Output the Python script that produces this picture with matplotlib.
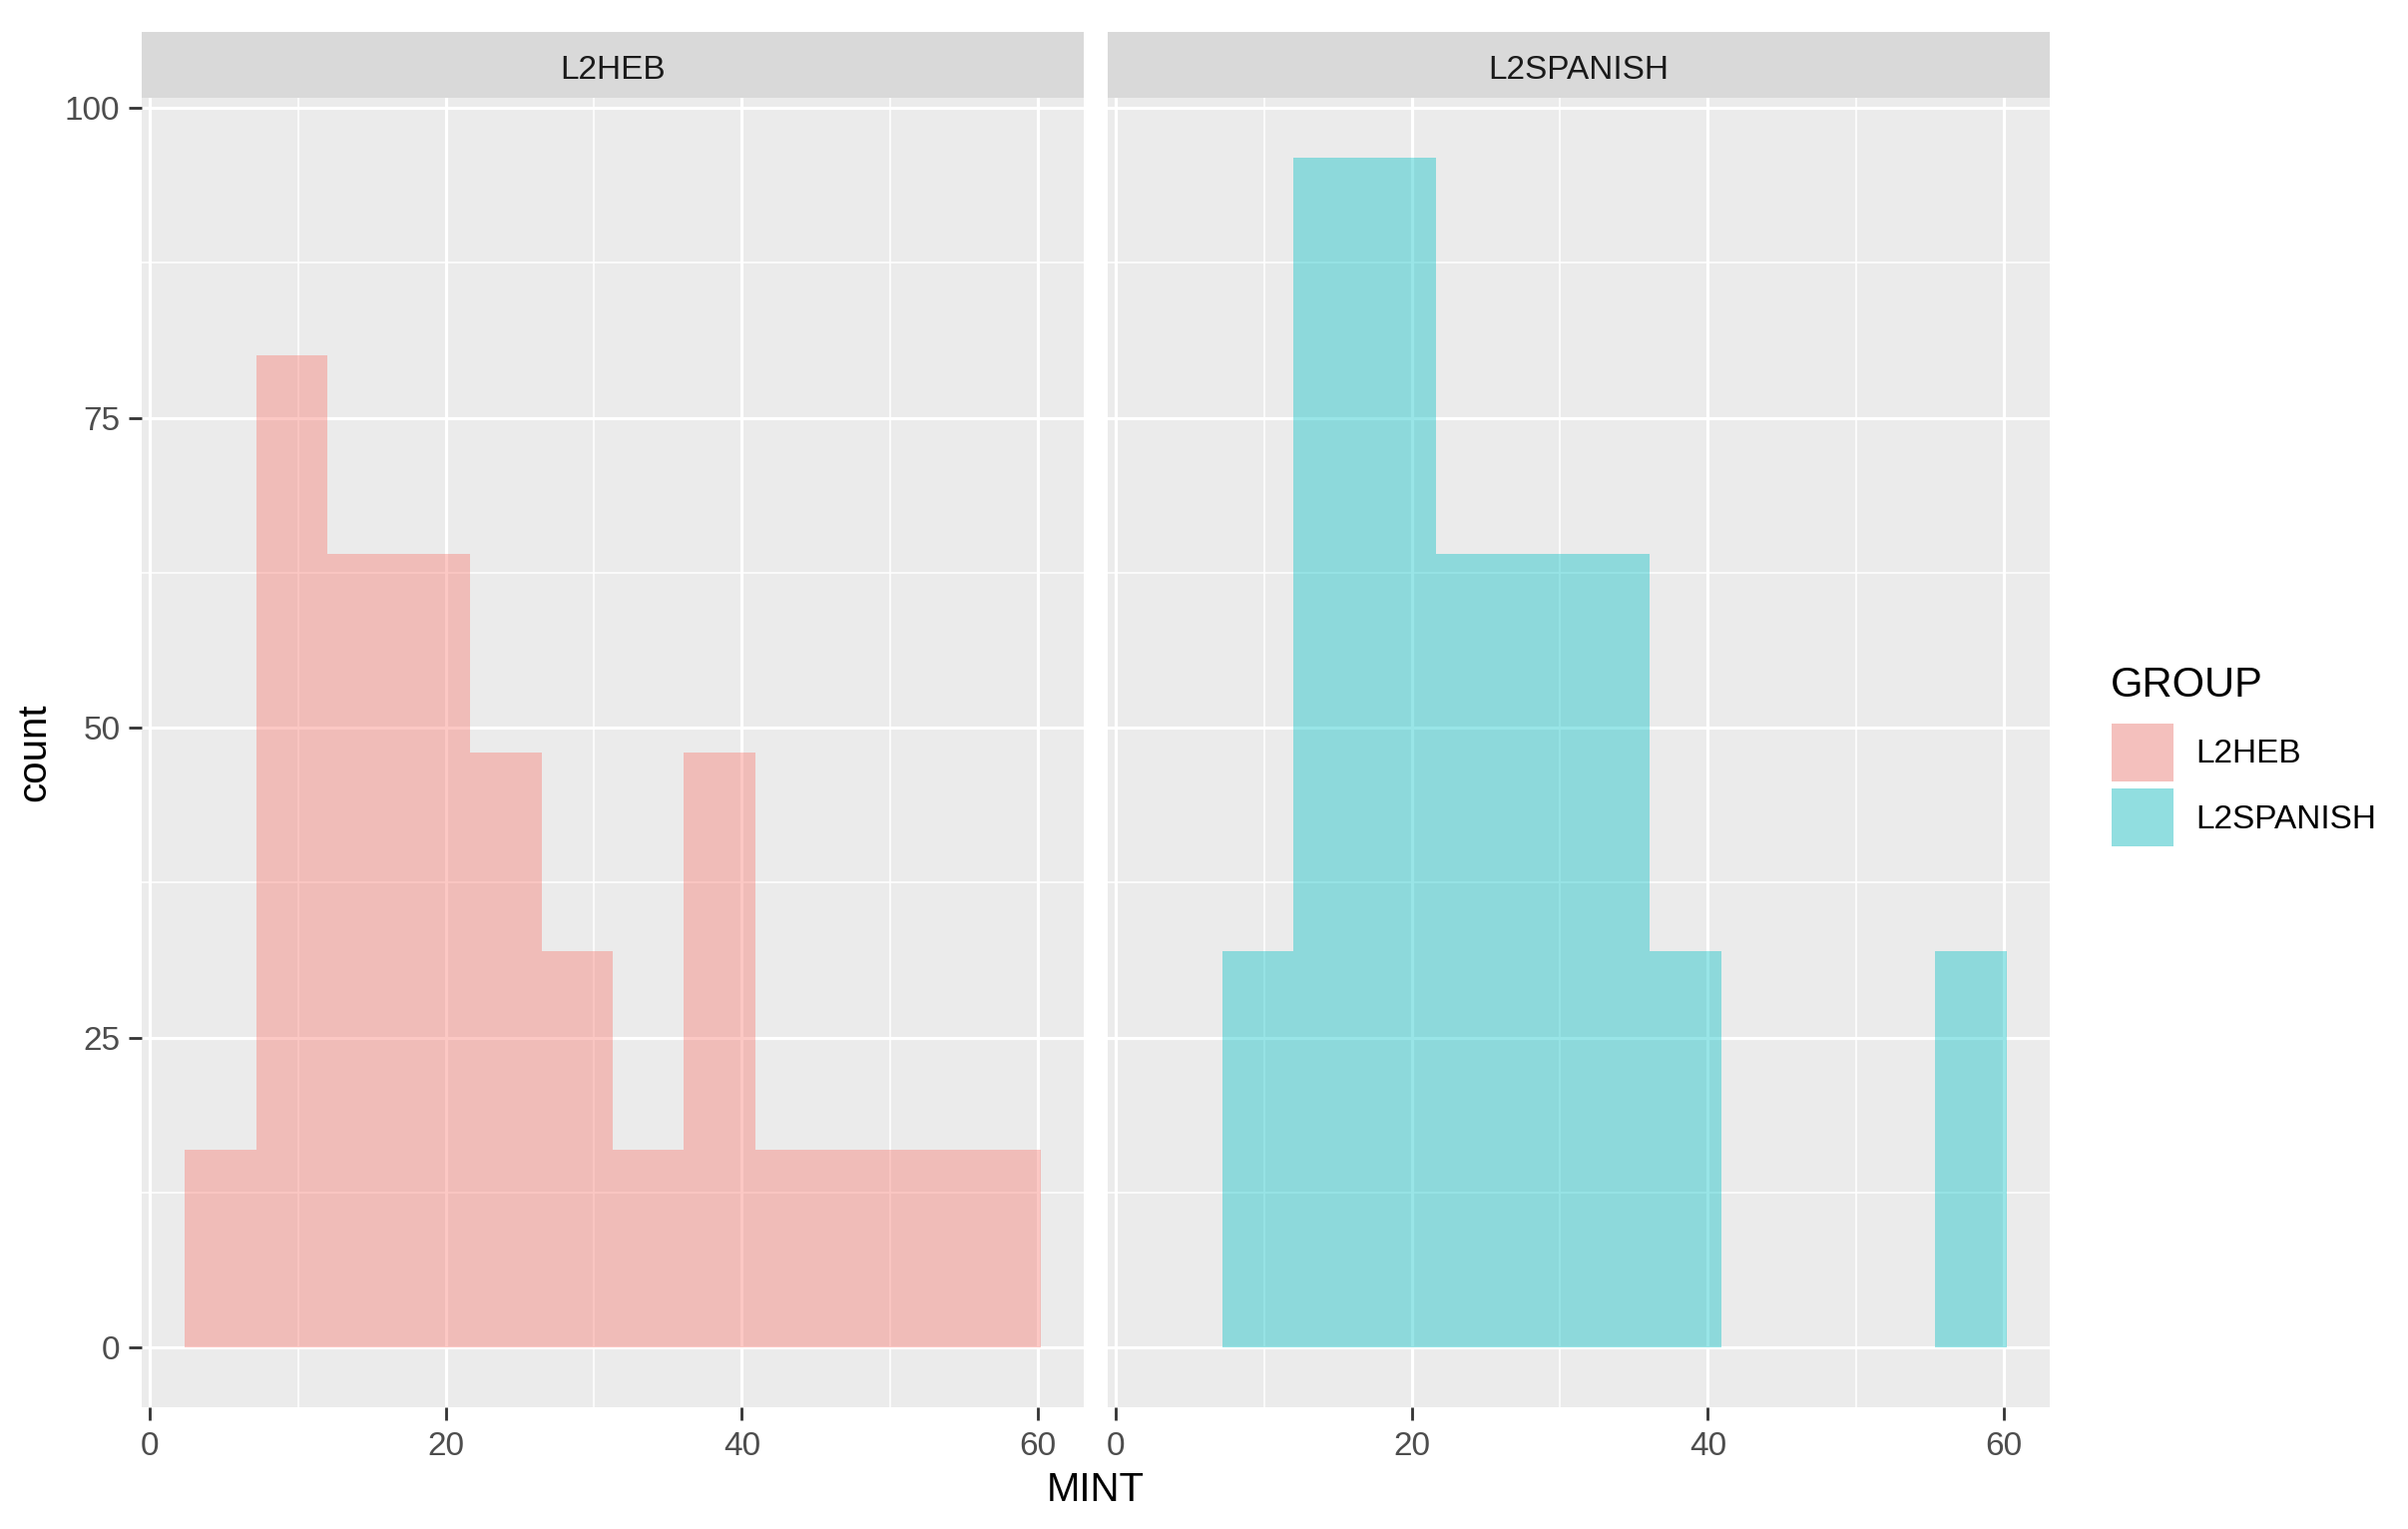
import matplotlib
matplotlib.use("Agg")
import matplotlib.pyplot as plt
import numpy as np
from matplotlib.colors import to_rgb
from matplotlib.patches import Rectangle

plt.rcParams["font.family"] = ["Liberation Sans", "DejaVu Sans"]

# histogram bins (shared by both facets) and counts per facet
bin_edges = [2.35, 7.17, 11.99, 16.81, 21.63, 26.45, 31.27, 36.09, 40.91, 45.73, 50.55, 55.37, 60.19]
groups = ["L2HEB", "L2SPANISH"]
heb_counts = [16, 80, 64, 64, 48, 32, 16, 48, 16, 16, 16, 16]
spa_counts = [0, 32, 96, 96, 64, 64, 64, 32, 0, 0, 0, 32]
x_ticks = [0, 20, 40, 60]
y_ticks = [0, 25, 50, 75, 100]

fills = {"L2HEB": "#F8766D", "L2SPANISH": "#00BFC4"}
ALPHA = 0.4
PANEL = "#EBEBEB"
STRIP = "#D9D9D9"
KEY_BG = "#F2F2F2"

W, H = 2413, 1532
fig = plt.figure(figsize=(W / 100, H / 100), dpi=100)


def fx(px):
    return px / W


def fy(py):
    return 1 - py / H


def blend(c, bg, a):
    c, bg = np.array(to_rgb(c)), np.array(to_rgb(bg))
    return tuple(a * c + (1 - a) * bg)


panel_top, panel_bot = 98, 1410
strip_top = 32
panels_x = [(142, 1086), (1110, 2054)]

left = np.array(bin_edges[:-1])
widths = np.diff(bin_edges)

for i, (g, counts) in enumerate(zip(groups, [heb_counts, spa_counts])):
    x0, x1 = panels_x[i]
    ax = fig.add_axes([fx(x0), fy(panel_bot), fx(x1 - x0), (panel_bot - panel_top) / H])
    ax.set_facecolor(PANEL)
    for s in ax.spines.values():
        s.set_visible(False)
    ax.bar(left, counts, width=widths, align="edge", color=fills[g], alpha=ALPHA,
           linewidth=0, zorder=3)
    ax.set_xlim(-0.56, 63.1)
    ax.set_ylim(-4.8, 100.8)
    ax.set_xticks(x_ticks)
    ax.set_xticks([10, 30, 50], minor=True)
    ax.set_yticks(y_ticks)
    ax.set_yticks([12.5, 37.5, 62.5, 87.5], minor=True)
    ax.grid(which="major", color="white", linewidth=2.3, zorder=1)
    ax.grid(which="minor", color="white", linewidth=1.1, zorder=1)
    ax.set_axisbelow(True)
    ax.tick_params(which="minor", length=0)
    ax.tick_params(axis="x", which="major", length=9.5, width=2, color="#333333",
                   labelsize=24, labelcolor="#4D4D4D", pad=8)
    if i == 0:
        ax.tick_params(axis="y", which="major", length=9.5, width=2, color="#333333",
                       labelsize=24, labelcolor="#4D4D4D", pad=6)
    else:
        ax.tick_params(axis="y", which="major", length=0, labelleft=False)

    # facet strip
    sax = fig.add_axes([fx(x0), fy(panel_top), fx(x1 - x0), (panel_top - strip_top) / H])
    sax.set_facecolor(STRIP)
    sax.set_xticks([])
    sax.set_yticks([])
    for s in sax.spines.values():
        s.set_visible(False)
    sax.text(0.5, 0.41, g, transform=sax.transAxes, ha="center", va="center",
             fontsize=24, color="#1A1A1A")

fig.text(fx(1098), fy(1493), "MINT", ha="center", va="center", fontsize=29, color="black")
fig.text(fx(34), fy(754), "count", ha="center", va="center", rotation=90,
         fontsize=29, color="black")

# legend (ggplot style), drawn in pixel coordinates
lax = fig.add_axes([0, 0, 1, 1])
lax.set_xlim(0, W)
lax.set_ylim(H, 0)
lax.axis("off")
lax.text(2115, 687, "GROUP", ha="left", va="center", fontsize=30, color="black")
for k, g in enumerate(groups):
    top = 725 + k * 65
    lax.add_patch(Rectangle((2116, top), 62, 58, facecolor=blend(fills[g], KEY_BG, ALPHA),
                            edgecolor="none"))
    lax.text(2200, top + 31, g, ha="left", va="center", fontsize=24, color="black")

fig.savefig("out.png", dpi=100)
